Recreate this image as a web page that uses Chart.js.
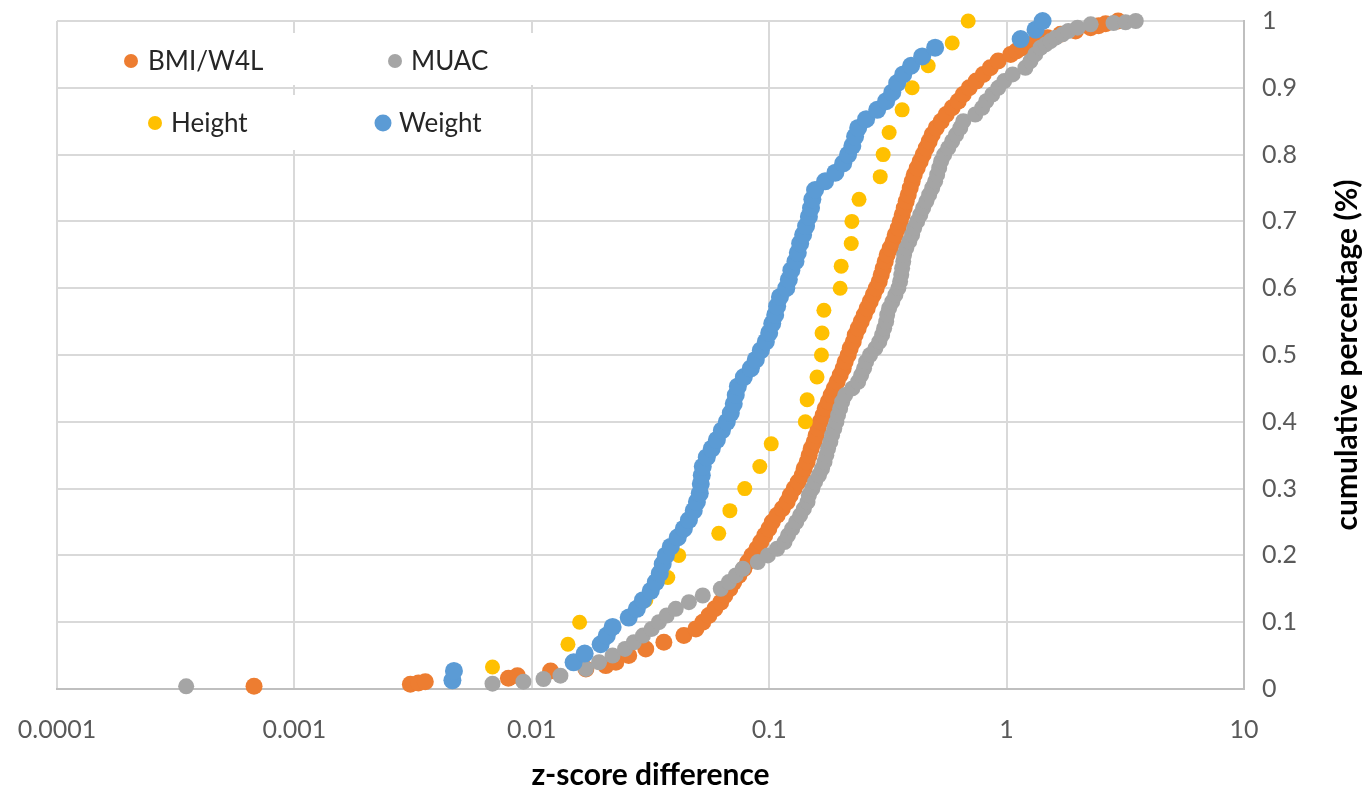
<!DOCTYPE html>
<html>
<head>
<meta charset="utf-8">
<script src="https://cdn.jsdelivr.net/npm/chart.js@4.4.1/dist/chart.umd.min.js"></script>
<style>
html,body{margin:0;padding:0;background:#ffffff;}
#wrap{position:relative;width:1366px;height:793px;}
</style>
</head>
<body>
<div id="wrap"><canvas id="c" width="1366" height="793"></canvas></div>
<script>
// ---------------- data ----------------
const seriesNames = ['BMI/W4L', 'MUAC', 'Height', 'Weight'];
const xTickValues = [0.0001, 0.001, 0.01, 0.1, 1, 10];
const xTickLabels = ['0.0001', '0.001', '0.01', '0.1', '1', '10'];
const yTickValues = [0, 0.1, 0.2, 0.3, 0.4, 0.5, 0.6, 0.7, 0.8, 0.9, 1];
const yTickLabels = ['0', '0.1', '0.2', '0.3', '0.4', '0.5', '0.6', '0.7', '0.8', '0.9', '1'];
const xTitle = 'z-score difference';
const yTitle = 'cumulative percentage (%)';

// BMI/W4L : z-score difference and cumulative share
const bmiZ = [
  0.000676, 0.00308, 0.00333, 0.00356, 0.00797, 0.0087, 0.0120, 0.0169, 0.0205, 0.0226,
  0.0256, 0.0302, 0.0360, 0.0437, 0.0491, 0.0525, 0.0557, 0.0590, 0.0625, 0.0650,
  0.0683, 0.0709, 0.0745, 0.0782, 0.0813, 0.0845, 0.0887, 0.0922, 0.0958, 0.0996,
  0.103, 0.108, 0.1135, 0.119, 0.1226, 0.1274, 0.1324, 0.1377, 0.1404, 0.1445,
  0.1474, 0.1503, 0.1547, 0.1577, 0.1608, 0.164, 0.1688, 0.1722, 0.1773, 0.1824,
  0.1878, 0.1933, 0.1991, 0.205, 0.209, 0.2152, 0.2194, 0.2259, 0.2303, 0.2371,
  0.2441, 0.2513, 0.2587, 0.2664, 0.2743, 0.2823, 0.2907, 0.2964, 0.3022, 0.3081,
  0.3141, 0.3234, 0.333, 0.3395, 0.3495, 0.3563, 0.3633, 0.3704, 0.3777, 0.3851,
  0.3926, 0.4003, 0.4082, 0.4202, 0.4326, 0.4454, 0.4585, 0.4721, 0.486, 0.5052,
  0.5304, 0.5567, 0.59, 0.6254, 0.6565, 0.6958, 0.7447, 0.7971, 0.8531, 0.9218,
  1.04, 1.10, 1.168, 1.262, 1.338, 1.488, 1.688, 1.952, 2.259, 2.441,
  2.613, 2.95
];
const bmiCum = [
  0.004, 0.007, 0.009, 0.011, 0.016, 0.02, 0.027, 0.03, 0.035, 0.04,
  0.05, 0.06, 0.07, 0.08, 0.09, 0.10, 0.11, 0.12, 0.13, 0.14,
  0.15, 0.16, 0.17, 0.18, 0.19, 0.20, 0.21, 0.22, 0.23, 0.24,
  0.25, 0.26, 0.27, 0.28, 0.29, 0.30, 0.31, 0.32, 0.33, 0.34,
  0.35, 0.36, 0.37, 0.38, 0.39, 0.40, 0.41, 0.42, 0.43, 0.44,
  0.45, 0.46, 0.47, 0.48, 0.49, 0.50, 0.51, 0.52, 0.53, 0.54,
  0.55, 0.56, 0.57, 0.58, 0.59, 0.60, 0.61, 0.62, 0.63, 0.64,
  0.65, 0.66, 0.67, 0.68, 0.69, 0.70, 0.71, 0.72, 0.73, 0.74,
  0.75, 0.76, 0.77, 0.78, 0.79, 0.80, 0.81, 0.82, 0.83, 0.84,
  0.85, 0.86, 0.87, 0.88, 0.89, 0.90, 0.91, 0.92, 0.93, 0.94,
  0.95, 0.955, 0.96, 0.965, 0.97, 0.975, 0.98, 0.985, 0.99, 0.993,
  0.996, 1.00
];

// MUAC
const muacZ = [
  0.00035, 0.00683, 0.00922, 0.0112, 0.0132,
  0.0169, 0.0192, 0.0219, 0.0247, 0.0269, 0.0294, 0.032, 0.0343, 0.037, 0.0404,
  0.0459, 0.0525, 0.0625, 0.0676, 0.0723, 0.0774, 0.0895, 0.0987, 0.108, 0.116,
  0.120, 0.125, 0.130, 0.135, 0.140, 0.145, 0.147, 0.152, 0.156, 0.162,
  0.167, 0.171, 0.174, 0.177, 0.181, 0.184, 0.188, 0.192, 0.195, 0.199,
  0.203, 0.209, 0.224, 0.237, 0.244, 0.251, 0.256, 0.266, 0.280, 0.291,
  0.299, 0.305, 0.311, 0.314, 0.320, 0.330, 0.340, 0.350, 0.356, 0.360,
  0.363, 0.367, 0.370, 0.378, 0.389, 0.400, 0.408, 0.420, 0.433, 0.445,
  0.459, 0.472, 0.486, 0.500, 0.510, 0.520, 0.530, 0.546, 0.568, 0.590,
  0.613, 0.638, 0.657, 0.738, 0.789, 0.821, 0.870, 0.922, 0.977, 1.06,
  1.20, 1.26, 1.32, 1.39, 1.46, 1.53, 1.61, 1.72, 1.82, 1.99,
  2.26, 2.82, 3.17, 3.50
];
const muacCum = [
  0.004, 0.008, 0.011, 0.015, 0.02,
  0.03, 0.04, 0.05, 0.06, 0.07, 0.08, 0.09, 0.10, 0.11, 0.12,
  0.13, 0.14, 0.15, 0.16, 0.17, 0.18, 0.19, 0.20, 0.21, 0.22,
  0.23, 0.24, 0.25, 0.26, 0.27, 0.28, 0.29, 0.30, 0.31, 0.32,
  0.33, 0.34, 0.35, 0.36, 0.37, 0.38, 0.39, 0.40, 0.41, 0.42,
  0.43, 0.44, 0.45, 0.46, 0.47, 0.48, 0.49, 0.50, 0.51, 0.52,
  0.53, 0.54, 0.55, 0.56, 0.57, 0.58, 0.59, 0.60, 0.61, 0.62,
  0.63, 0.64, 0.65, 0.66, 0.67, 0.68, 0.69, 0.70, 0.71, 0.72,
  0.73, 0.74, 0.75, 0.76, 0.77, 0.78, 0.79, 0.80, 0.81, 0.82,
  0.83, 0.84, 0.85, 0.86, 0.87, 0.88, 0.89, 0.90, 0.91, 0.92,
  0.93, 0.94, 0.95, 0.96, 0.965, 0.97, 0.975, 0.98, 0.985, 0.99,
  0.995, 0.997, 0.998, 1.00
];

// Height
const heightZ = [
  0.00683, 0.0142, 0.0159, 0.0302, 0.0374, 0.0416, 0.0613, 0.0683, 0.0789, 0.0913,
  0.102, 0.142, 0.1445, 0.159, 0.166, 0.167, 0.170, 0.199, 0.201, 0.2216,
  0.223, 0.239, 0.2935, 0.302, 0.320, 0.363, 0.400, 0.4675, 0.590, 0.689
];
const heightCum = [
  0.033, 0.067, 0.1, 0.133, 0.167, 0.2, 0.233, 0.267, 0.3, 0.333,
  0.367, 0.4, 0.433, 0.467, 0.5, 0.533, 0.567, 0.6, 0.633, 0.667,
  0.7, 0.733, 0.767, 0.8, 0.833, 0.867, 0.9, 0.933, 0.967, 1
];

// Weight
const weightZ = [
  0.00463, 0.0047, 0.0150, 0.0167, 0.0195, 0.0207, 0.0219, 0.0256, 0.0277, 0.0294,
  0.0317, 0.0333, 0.0346, 0.0356, 0.0367, 0.0385, 0.0412, 0.0437, 0.0459, 0.0481,
  0.0496, 0.0510, 0.0515, 0.0520, 0.0525, 0.0546, 0.0573, 0.0602, 0.0632, 0.0663,
  0.0689, 0.0709, 0.0723, 0.0738, 0.0782, 0.0837, 0.0878, 0.0922, 0.0968, 0.100,
  0.103, 0.106, 0.108, 0.111, 0.118, 0.121, 0.124, 0.129, 0.132, 0.135,
  0.139, 0.143, 0.147, 0.150, 0.152, 0.156, 0.172, 0.190, 0.205, 0.215,
  0.224, 0.230, 0.237, 0.256, 0.285, 0.311, 0.330, 0.346, 0.367, 0.396,
  0.441, 0.500, 1.146, 1.324, 1.418
];
const weightCum = [
  0.013, 0.027, 0.04, 0.053, 0.067, 0.08, 0.093, 0.107, 0.12, 0.133,
  0.147, 0.16, 0.173, 0.187, 0.2, 0.213, 0.227, 0.24, 0.253, 0.267,
  0.28, 0.293, 0.307, 0.32, 0.333, 0.347, 0.36, 0.373, 0.387, 0.4,
  0.413, 0.427, 0.44, 0.453, 0.467, 0.48, 0.493, 0.507, 0.52, 0.533,
  0.547, 0.56, 0.573, 0.587, 0.6, 0.613, 0.627, 0.64, 0.653, 0.667,
  0.68, 0.693, 0.707, 0.72, 0.733, 0.747, 0.76, 0.773, 0.787, 0.8,
  0.813, 0.827, 0.84, 0.853, 0.867, 0.88, 0.893, 0.907, 0.92, 0.933,
  0.947, 0.96, 0.973, 0.987, 1
];

// ---------------- styles ----------------
const COLORS = { bmi: '#ED7D31', muac: '#A5A5A5', height: '#FFC000', weight: '#5B9BD5' };
const FONT = 'Lato, "Open Sans", "Liberation Sans", sans-serif';

function pts(xs, ys) { return xs.map((x, i) => ({ x: x, y: ys[i] })); }

function ds(label, xs, ys, color, radius, order) {
  return {
    label: label, data: pts(xs, ys), showLine: false,
    pointRadius: radius, pointHoverRadius: radius,
    pointBackgroundColor: color, pointBorderColor: color, pointBorderWidth: 0,
    backgroundColor: color, borderColor: color, clip: false, order: order
  };
}

const legendItems = [
  { text: seriesNames[0], color: COLORS.bmi, r: 7, dotX: 131, textX: 148, y: 61 },
  { text: seriesNames[1], color: COLORS.muac, r: 7, dotX: 395, textX: 411, y: 61 },
  { text: seriesNames[2], color: COLORS.height, r: 7, dotX: 155, textX: 171, y: 123 },
  { text: seriesNames[3], color: COLORS.weight, r: 8.5, dotX: 383, textX: 399, y: 123 }
];

const overlayPlugin = {
  id: 'overlay',
  beforeDatasetsDraw(chart) {
    const c = chart.ctx;
    c.save();
    c.fillStyle = '#ffffff';
    c.fillRect(107, 33, 436, 52);
    c.fillRect(107, 95, 420, 55);
    c.font = '26px ' + FONT;
    c.textBaseline = 'middle';
    c.textAlign = 'left';
    legendItems.forEach(it => {
      c.beginPath();
      c.arc(it.dotX, it.y, it.r, 0, Math.PI * 2);
      c.fillStyle = it.color;
      c.fill();
      c.fillStyle = '#262626';
      c.fillText(it.text, it.textX, it.y + 1);
    });
    c.restore();
  },
  afterDraw(chart) {
    const c = chart.ctx;
    c.save();
    c.translate(1347, 355);
    c.rotate(-Math.PI / 2);
    c.font = 'bold 30px ' + FONT;
    c.fillStyle = '#000000';
    c.textAlign = 'center';
    c.textBaseline = 'middle';
    c.fillText(yTitle, 0, 0);
    c.restore();
  }
};

new Chart(document.getElementById('c').getContext('2d'), {
  type: 'scatter',
  data: {
    datasets: [
      ds(seriesNames[0], bmiZ, bmiCum, COLORS.bmi, 8.5, 4),
      ds(seriesNames[1], muacZ, muacCum, COLORS.muac, 8, 3),
      ds(seriesNames[2], heightZ, heightCum, COLORS.height, 7.5, 2),
      ds(seriesNames[3], weightZ, weightCum, COLORS.weight, 9, 1)
    ]
  },
  options: {
    responsive: false,
    animation: false,
    events: [],
    layout: { padding: { left: 57, top: 21, right: 0, bottom: 0 } },
    plugins: { legend: { display: false }, tooltip: { enabled: false } },
    scales: {
      x: {
        type: 'logarithmic', position: 'bottom', min: 0.0001, max: 10,
        afterBuildTicks: s => { s.ticks = xTickValues.map(v => ({ value: v })); },
        afterFit: s => { s.height = 104; s.paddingLeft = 0; s.paddingRight = 0; },
        grid: { color: '#D9D9D9', lineWidth: 2, drawTicks: false },
        border: { color: '#BFBFBF', width: 2 },
        ticks: {
          padding: 26, color: '#595959', autoSkip: false, maxRotation: 0,
          font: { family: FONT, size: 25 },
          callback: (v, i) => xTickLabels[i]
        },
        title: {
          display: true, text: xTitle, color: '#000000',
          font: { family: FONT, size: 30, weight: 'bold' },
          padding: { top: 0, bottom: 0 }
        }
      },
      y: {
        type: 'linear', position: 'right', min: 0, max: 1,
        afterBuildTicks: s => { s.ticks = yTickValues.map(v => ({ value: v })); },
        afterFit: s => { s.width = 122; s.paddingTop = 0; s.paddingBottom = 0; },
        grid: { color: '#D9D9D9', lineWidth: 2, drawTicks: false },
        border: { color: '#BFBFBF', width: 2 },
        ticks: {
          padding: 18, color: '#595959',
          font: { family: FONT, size: 25 },
          callback: (v, i) => yTickLabels[i]
        }
      }
    }
  },
  plugins: [overlayPlugin]
});
</script>
</body>
</html>
